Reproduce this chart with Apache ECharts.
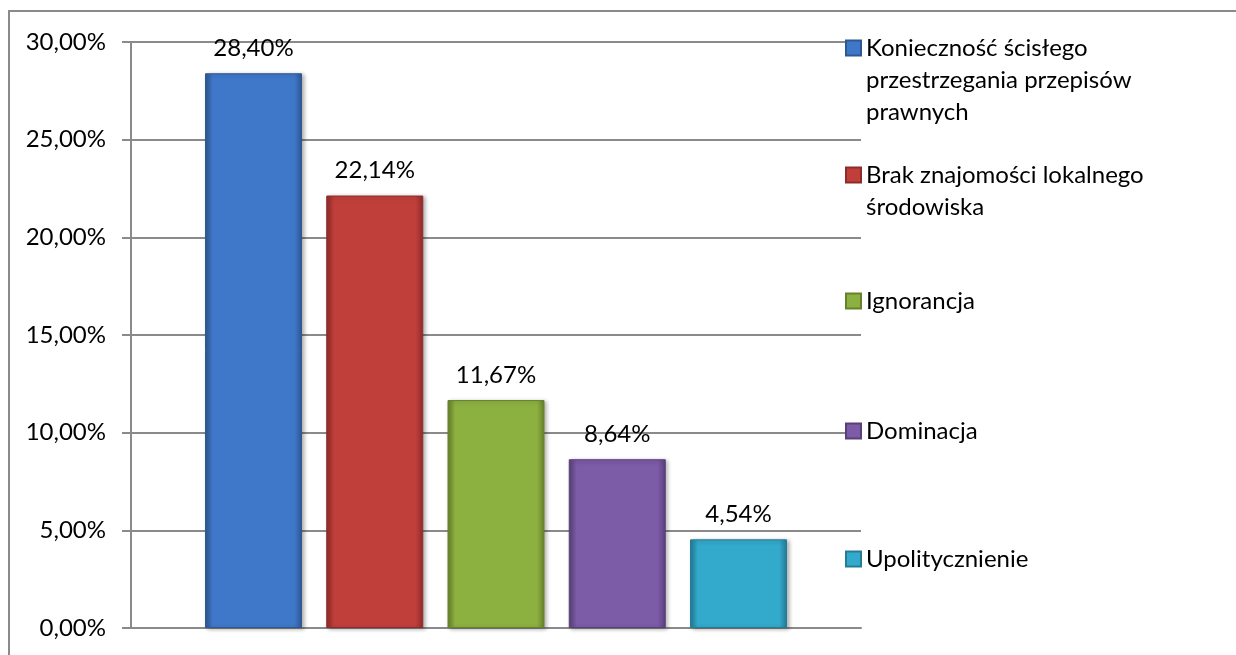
<!DOCTYPE html>
<html lang="pl">
<head>
    <meta charset="UTF-8">
    <title>bariery</title>
    <script src="https://cdn.jsdelivr.net/npm/echarts@6/dist/echarts.min.js"></script>
    <style>
        html, body {
            margin: 0;
            padding: 0;
            background: #fff;
        }
        #frame {
            position: absolute;
            left: 8px;
            top: 10px;
            width: 1240px;
            height: 660px;
            border-left: solid 2px #8a8a8a;
            border-top: solid 2px #8a8a8a;
        }
        #main {
            position: absolute;
            left: 0;
            top: 0;
            width: 1236px;
            height: 655px;
        }
    </style>
</head>
<body>
<div id="frame"></div>
<div id="main"></div>
<script>
    // nazwy serii (legenda)
    let names = [
        'Konieczność ścisłego\nprzestrzegania przepisów\nprawnych',
        'Brak znajomości lokalnego\nśrodowiska',
        'Ignorancja',
        'Dominacja',
        'Upolitycznienie'
    ];
    // wartości w procentach
    let values = [28.40, 22.14, 11.67, 8.64, 4.54];
    // kolory słupków
    let colors = ['#3f78c9', '#c13f3b', '#8db140', '#7c5ba7', '#33a9cb'];
    let darkColors = ['#2d5892', '#8e2c2a', '#67822d', '#5a4079', '#247c96'];
    // oś Y
    let yTicks = [0, 5, 10, 15, 20, 25, 30];

    let font = 'Lato';
    let fontSize = 24;
    let lineH = 32;

    function fmt(v) {
        return v.toFixed(2).replace('.', ',') + '%';
    }

    // pozycje legendy (środek pierwszej linii)
    let legendY = [47, 174, 301, 431, 559];

    let series = names.map((name, i) => {
        return {
            name: name,
            type: 'bar',
            barWidth: 97,
            barGap: '25%',
            data: [values[i]],
            itemStyle: {
                color: {
                    type: 'linear', x: 0, y: 0, x2: 1, y2: 0,
                    colorStops: [
                        {offset: 0, color: darkColors[i]},
                        {offset: 0.08, color: colors[i]},
                        {offset: 0.92, color: colors[i]},
                        {offset: 1, color: darkColors[i]}
                    ]
                },
                borderColor: darkColors[i],
                borderWidth: 1,
                shadowColor: 'rgba(0,0,0,0.3)',
                shadowBlur: 4,
                shadowOffsetX: 2,
                shadowOffsetY: 1
            },
            label: {
                show: true,
                position: 'top',
                distance: 13,
                color: '#000',
                fontFamily: font,
                fontSize: fontSize,
                formatter: p => fmt(p.value)
            }
        };
    });

    // ikona legendy: kwadrat przy pierwszej linii tekstu
    function iconFor(lines) {
        if (lines === 1) {
            return 'rect';
        }
        let h = lines * lineH;
        return 'path://M0,0L0,0M0,8.5L15,8.5L15,23.5L0,23.5ZM15,' + h + 'L15,' + h;
    }

    let legends = names.map((name, i) => {
        let lines = name.split('\n').length;
        return {
            data: [{name: name, icon: iconFor(lines), itemStyle: {color: colors[i]}}],
            left: 845,
            top: legendY[i] - lineH / 2,
            itemWidth: 15,
            itemHeight: lines === 1 ? 15 : lines * lineH,
            itemGap: 0,
            padding: 0,
            selectedMode: false,
            textStyle: {
                color: '#000',
                fontFamily: font,
                fontSize: fontSize,
                lineHeight: lineH
            }
        };
    });

    let option = {
        animation: false,
        grid: {
            left: 131,
            right: 375,
            top: 42,
            bottom: 27
        },
        legend: legends,
        xAxis: {
            type: 'category',
            data: [''],
            axisLine: {lineStyle: {color: '#8a8a8a', width: 2}},
            axisTick: {show: false},
            axisLabel: {show: false}
        },
        yAxis: {
            type: 'value',
            min: yTicks[0],
            max: yTicks[yTicks.length - 1],
            interval: 5,
            axisLine: {show: true, lineStyle: {color: '#8a8a8a', width: 2}},
            axisTick: {show: true, length: 9, lineStyle: {color: '#8a8a8a', width: 2}},
            splitLine: {lineStyle: {color: '#8a8a8a', width: 2}},
            axisLabel: {
                color: '#000',
                fontFamily: font,
                fontSize: fontSize,
                margin: 25,
                formatter: v => fmt(v)
            }
        },
        series: series
    };

    let myChart = echarts.init(document.getElementById('main'), null, {renderer: 'canvas'});
    myChart.setOption(option);
</script>
</body>
</html>
